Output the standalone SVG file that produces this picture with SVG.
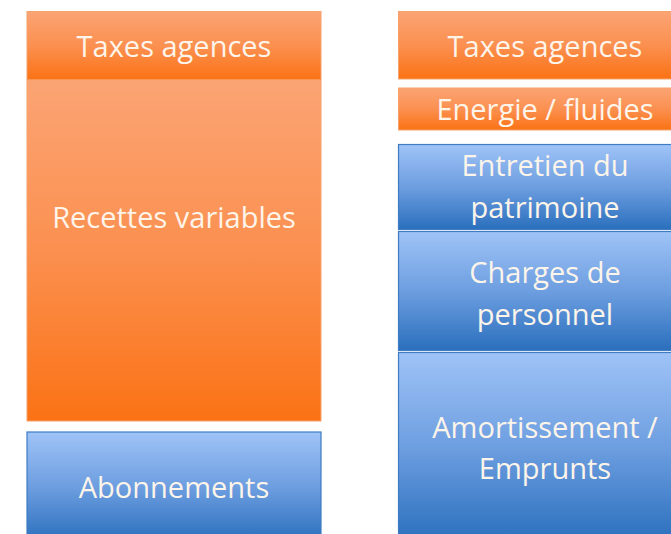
<svg xmlns="http://www.w3.org/2000/svg" width="671" height="534" viewBox="0 0 671 534">
<defs>
<linearGradient id="og" x1="0" y1="0" x2="0" y2="1">
<stop offset="0" stop-color="#fba474"/>
<stop offset="0.5" stop-color="#fb9050"/>
<stop offset="1" stop-color="#fb7214"/>
</linearGradient>
<linearGradient id="bg" x1="0" y1="0" x2="0" y2="1">
<stop offset="0" stop-color="#9fc3f7"/>
<stop offset="0.5" stop-color="#6d9ee0"/>
<stop offset="1" stop-color="#2a6fbd"/>
</linearGradient>
<style>
.o{fill:url(#og);stroke:#f5a26c;stroke-width:1}
.b{fill:url(#bg);stroke:#3f7cc4;stroke-width:1.2}
text{font-family:"Open Sans","Liberation Sans",sans-serif;font-size:29px;fill:#fdf4ea;text-anchor:middle}
</style>
</defs>
<rect width="671" height="534" fill="#ffffff"/>
<g id="left-taxes"><rect class="o" x="27" y="11.5" width="294" height="68.5"/><text x="174" y="57">Taxes agences</text></g>
<g id="left-recettes"><rect class="o" x="27" y="80" width="294" height="341"/><text x="174" y="228">Recettes variables</text></g>
<g id="left-abonnements"><rect class="b" x="27" y="432" width="294" height="110"/><text x="174" y="498">Abonnements</text></g>
<g id="right-taxes"><rect class="o" x="398.5" y="11.5" width="294" height="67.5"/><text x="545" y="57">Taxes agences</text></g>
<g id="right-energie"><rect class="o" x="398.5" y="88" width="294" height="42"/><text x="545" y="120">Energie / fluides</text></g>
<g id="right-entretien"><rect class="b" x="398.5" y="144.5" width="294" height="85"/><text x="545" y="176">Entretien du</text><text x="545" y="218">patrimoine</text></g>
<g id="right-charges"><rect class="b" x="398.5" y="231.5" width="294" height="119"/><text x="545" y="283">Charges de</text><text x="545" y="325">personnel</text></g>
<g id="right-amort"><rect class="b" x="398.5" y="352.5" width="294" height="190"/><text x="545" y="438">Amortissement /</text><text x="545" y="479">Emprunts</text></g>
<g id="connectors"/>
</svg>
